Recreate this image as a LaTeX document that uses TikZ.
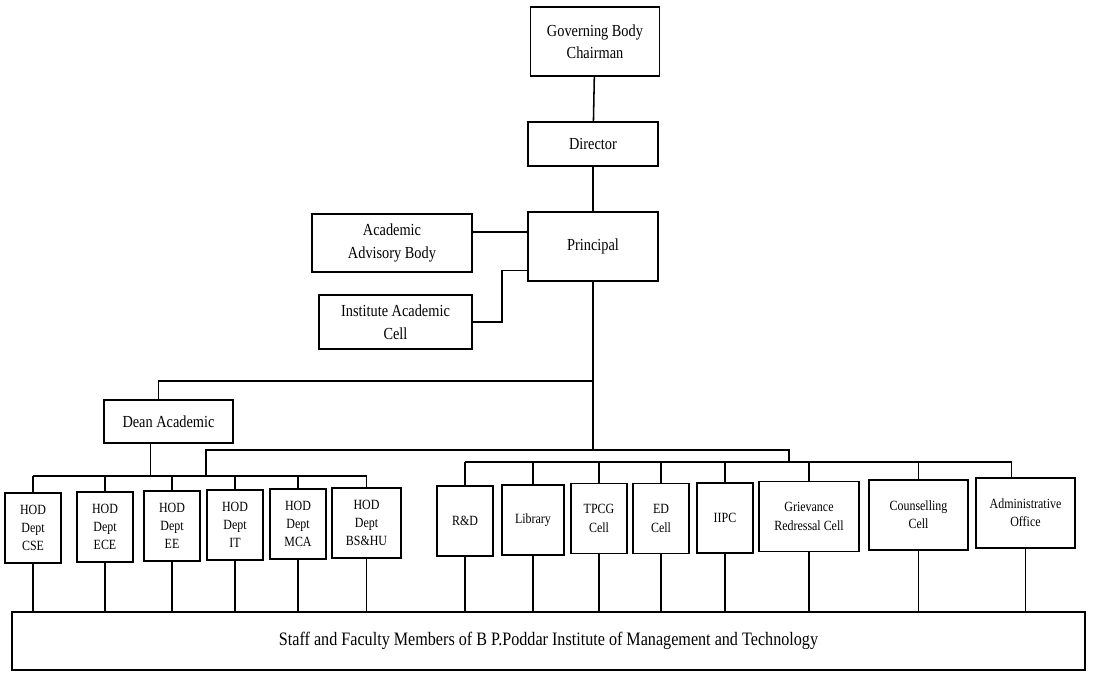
\documentclass[tikz,border=0pt]{standalone}
\usepackage{fontspec}
\setmainfont{Liberation Serif}[FakeStretch=0.85]
\usepackage{tikz}
\usetikzlibrary{positioning,calc}

\tikzset{
  unit/.style={draw, line width=1.1pt, align=center, inner sep=2pt,
    font=\fontsize{12}{16}\selectfont},
  dept/.style={unit, font=\fontsize{10}{13}\selectfont,
    minimum width=1.4cm, minimum height=1.75cm},
  link/.style={line width=1.1pt},
}

\begin{document}
\begin{tikzpicture}[x=0.025cm, y=-0.025cm]
\useasboundingbox (0,0) rectangle (1094,677);

% Top of the chain
\node[unit, minimum width=3.225cm, minimum height=1.725cm] (gov) at (595,41.5) {Governing Body\\Chairman};
\node[unit, minimum width=3.25cm, minimum height=1.1cm] (director) at (593,144) {Director};
\node[unit, minimum width=3.25cm, minimum height=1.725cm] (principal) at (593,246.5) {Principal};
\node[unit, minimum width=4cm, minimum height=1.45cm] (advisory) at (392,243) {Academic\\Advisory Body};
\node[unit, minimum width=3.825cm, minimum height=1.35cm] (acadcell) at (395.5,322) {Institute Academic\\Cell};
\node[unit, minimum width=3.225cm, minimum height=1.075cm] (dean) at (168.5,421.5) {Dean Academic};

% Departments
\node[dept] (cse) at (33,528) {HOD\\Dept\\CSE};
\node[dept] (ece) at (105,527) {HOD\\Dept\\ECE};
\node[dept] (ee) at (172,526) {HOD\\Dept\\EE};
\node[dept] (it) at (235,525) {HOD\\Dept\\IT};
\node[dept] (mca) at (298,524) {HOD\\Dept\\MCA};
\node[dept, minimum width=1.725cm] (bshu) at (366.5,523) {HOD\\Dept\\BS\&HU};

% Cells and offices
\node[dept] (rnd) at (465,521) {R\&D};
\node[dept, minimum width=1.55cm] (library) at (533,520) {Library};
\node[dept] (tpcg) at (599,518.5) {TPCG\\Cell};
\node[dept] (edcell) at (661,518.5) {ED\\Cell};
\node[dept] (iipc) at (725,518) {IIPC};
\node[dept, minimum width=2.5cm] (grievance) at (809,516.5) {Grievance\\Redressal Cell};
\node[dept, minimum width=2.475cm] (counselling) at (918.5,515) {Counselling\\Cell};
\node[dept, minimum width=2.475cm] (admin) at (1025.5,513) {Administrative\\Office};

% Staff
\node[unit, minimum width=26.825cm, minimum height=1.45cm, font=\fontsize{13.5}{16}\selectfont] (staff) at (548.5,641)
  {Staff and Faculty Members of B P.Poddar Institute of Management and Technology};

% Bus levels
\coordinate (deanrow) at (0,381);
\coordinate (split) at (0,450);
\coordinate (hodbus) at (0,476);
\coordinate (svcbus) at (0,462);
\coordinate (hodtap) at (206,476);
\coordinate (svctap) at (789,462);
\coordinate (admintap) at ($(admin.north)+(-14,0)$);

% Chain links
\draw[link] (gov) -- (director);
\draw[link] (director) -- (principal);
\draw[link] ($(advisory.east)+(0,-11)$) coordinate (a1) -- (a1 -| principal.west);
\draw[link] (acadcell.east) -- ++(29,0) |- ($(principal.west)+(0,24)$);
\draw[link] (principal.south) -- (principal.south |- split);
\draw[link] (principal.south |- deanrow) -| ($(dean.north)+(-10,0)$);
\draw[link] (hodtap) |- (split -| svctap) -- (svctap);
\draw[link] ($(dean.south)+(-18,0)$) coordinate (d1) -- (d1 |- hodbus);

% Department bus
\draw[link] (cse.north |- hodbus) -- (bshu.north |- hodbus);
\foreach \n in {cse,ece,ee,it,mca,bshu}
  \draw[link] (\n.north) -- (\n.north |- hodbus) (\n.south) -- (\n.south |- staff.north);

% Cells bus
\draw[link] (rnd.north |- svcbus) -- (admintap |- svcbus) -- (admintap);
\foreach \n in {rnd,library,tpcg,edcell,iipc,grievance,counselling}
  \draw[link] (\n.north) -- (\n.north |- svcbus);
\foreach \n in {rnd,library,tpcg,edcell,iipc,grievance,counselling,admin}
  \draw[link] (\n.south) -- (\n.south |- staff.north);
\end{tikzpicture}
\end{document}
